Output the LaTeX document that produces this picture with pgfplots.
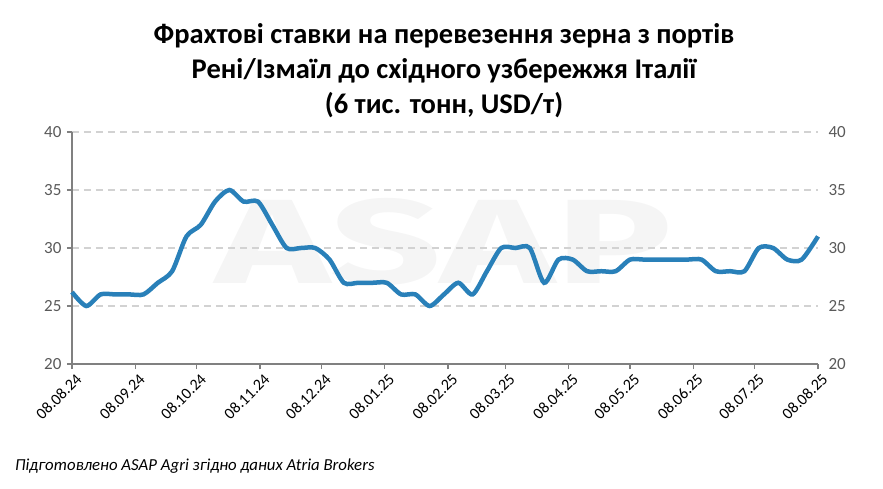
\documentclass[border=0pt]{standalone}
\usepackage{pgfplots}
\pgfplotsset{compat=1.18}
\usepackage{pgfplotstable}
\usepackage{fontspec}
\setmainfont{Carlito}
\definecolor{lineblue}{RGB}{41,128,185}
\definecolor{tickgray}{RGB}{89,89,89}
\definecolor{axgray}{RGB}{128,128,128}
\definecolor{gridgray}{RGB}{210,210,210}
\pgfplotstableread{
d v
0 26.2
7 25
14 26
21 26
28 26
35 26
42 27
49 28
56 31
63 32
70 34
77 35
84 34
91 34
98 32
105 30
112 30
119 30
126 29
133 27
140 27
147 27
154 27
161 26
168 26
175 25
182 26
189 27
196 26
203 28
210 30
217 30
224 30
231 27
238 29
245 29
252 28
259 28
266 28
273 29
280 29
287 29
294 29
301 29
308 29
315 28
322 28
329 28
336 30
343 30
350 29
357 29
365 31
}\freight
\begin{document}
\begin{tikzpicture}[x=1pt,y=1pt]
\useasboundingbox (-72,-124) rectangle (811,364);
% watermark
\node[anchor=south west,inner sep=0pt,text=black!4,xscale=1.62,font=\fontsize{120}{120}\selectfont\bfseries] at (143,78) {\fontspec{Fira Sans}ASAP};
\begin{axis}[
  at={(0,0)}, anchor=south west,
  scale only axis, width=746pt, height=232pt,
  xmin=0, xmax=365, ymin=20, ymax=40,
  axis x line*=bottom, axis y line*=left,
  axis line style={axgray, line width=1.2pt},
  ytick={20,25,30,35,40},
  xtick={0,31,61,92,122,153,184,212,243,273,304,334,365},
  xticklabels={08.08.24,08.09.24,08.10.24,08.11.24,08.12.24,08.01.25,08.02.25,08.03.25,08.04.25,08.05.25,08.06.25,08.07.25,08.08.25},
  tick align=outside, major tick length=5pt,
  tick style={axgray, line width=1.2pt},
  ymajorgrids, grid style={gridgray, line width=1.3pt, dash pattern=on 7pt off 5pt},
  yticklabel style={font=\fontsize{17}{17}\selectfont, text=tickgray, xshift=-2pt},
  xticklabel style={font=\fontsize{16}{16}\selectfont, text=black, rotate=45, anchor=north east, xshift=3pt, yshift=-1pt},
  /pgf/number format/assume math mode=true,
  clip=false,
]
\addplot[lineblue, line width=4.5pt, smooth, tension=0.45] table[x=d,y=v] {\freight};
\end{axis}
\begin{axis}[
  at={(0,0)}, anchor=south west,
  scale only axis, width=746pt, height=232pt,
  xmin=0, xmax=365, ymin=20, ymax=40,
  axis x line=none, axis y line*=right,
  y axis line style={draw=none},
  ytick={20,25,30,35,40}, major tick length=0pt,
  yticklabel style={font=\fontsize{17}{17}\selectfont, text=tickgray, xshift=7pt},
  /pgf/number format/assume math mode=true,
]
\end{axis}
\node[font=\fontsize{28.5}{35}\selectfont\bfseries, align=center, anchor=base] at (372,251) {Фрахтові ставки на перевезення зерна з портів\\Рені/Ізмаїл до східного узбережжя Італії\\(6 тис. тонн, USD/т)};
\node[font=\fontsize{16.8}{16.8}\selectfont\itshape, anchor=base west, inner sep=0pt] at (-57,-106) {Підготовлено ASAP Agri згідно даних Atria Brokers};
\end{tikzpicture}
\end{document}
